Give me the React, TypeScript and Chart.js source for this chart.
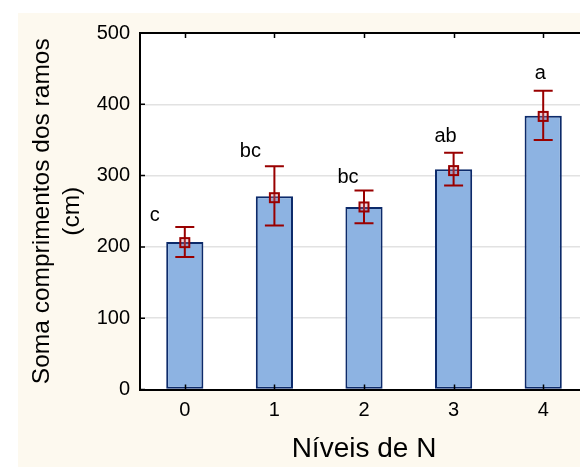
import React, { useEffect, useRef } from "react";
import { Chart, registerables } from "chart.js";

Chart.register(...registerables);

const categories = ["0", "1", "2", "3", "4"];
const means = [207, 271, 256, 309, 384];
const markerValues = [206, 269, 256, 307, 383];
const upperValues = [228, 313, 279, 332, 419];
const lowerValues = [186, 230, 233, 286, 350];
const groupLetters = ["c", "bc", "bc", "ab", "a"];
const letterBaselineValues = [237, 326, 290, 347, 435];
const letterOffsetsPx = [-30, -24, -16, -8, -3];
const yTickMax = 500;
const yStep = 100;

const CREAM = "#fdf9ef";
const ERR = "#990000";

const decorPlugin = {
  id: "decor",
  beforeDraw(chart: any) {
    const { ctx, chartArea } = chart;
    ctx.save();
    ctx.fillStyle = "#ffffff";
    ctx.fillRect(0, 0, chart.width, chart.height);
    ctx.fillStyle = CREAM;
    ctx.fillRect(18, 13, chart.width - 18, chart.height - 13);
    ctx.fillStyle = "#ffffff";
    ctx.fillRect(chartArea.left, chartArea.top, chartArea.right - chartArea.left, chartArea.bottom - chartArea.top);
    ctx.restore();
  },
  afterDatasetsDraw(chart: any) {
    const { ctx, chartArea, scales } = chart;
    const xs = scales.x;
    const ys = scales.y;
    ctx.save();
    // error bars
    ctx.strokeStyle = ERR;
    ctx.lineWidth = 2;
    for (let i = 0; i < categories.length; i++) {
      const x = xs.getPixelForValue(i);
      const yt = ys.getPixelForValue(upperValues[i]);
      const yb = ys.getPixelForValue(lowerValues[i]);
      const cap = 9.5;
      ctx.beginPath();
      ctx.moveTo(x, yt);
      ctx.lineTo(x, yb);
      ctx.moveTo(x - cap, yt);
      ctx.lineTo(x + cap, yt);
      ctx.moveTo(x - cap, yb);
      ctx.lineTo(x + cap, yb);
      ctx.stroke();
      const ym = ys.getPixelForValue(markerValues[i]);
      const s = 4.5;
      ctx.fillStyle = "rgba(200,120,140,0.3)";
      ctx.fillRect(x - s, ym - s, 2 * s, 2 * s);
      ctx.strokeRect(x - s, ym - s, 2 * s, 2 * s);
    }
    // letters
    ctx.fillStyle = "#000000";
    ctx.font = "20px 'Liberation Sans', Arial, sans-serif";
    ctx.textAlign = "center";
    ctx.textBaseline = "alphabetic";
    for (let i = 0; i < categories.length; i++) {
      const x = xs.getPixelForValue(i) + letterOffsetsPx[i];
      const y = ys.getPixelForValue(letterBaselineValues[i]);
      ctx.fillText(groupLetters[i], x, y);
    }
    // frame top line
    ctx.strokeStyle = "#000000";
    ctx.lineWidth = 2;
    ctx.beginPath();
    ctx.moveTo(chartArea.left - 1, chartArea.top);
    ctx.lineTo(chartArea.right, chartArea.top);
    ctx.stroke();
    // inward ticks
    ctx.lineWidth = 1.5;
    ctx.beginPath();
    for (let i = 0; i < categories.length; i++) {
      const x = Math.round(xs.getPixelForValue(i)) + 0.5;
      ctx.moveTo(x, chartArea.top);
      ctx.lineTo(x, chartArea.top + 5);
      ctx.moveTo(x, chartArea.bottom);
      ctx.lineTo(x, chartArea.bottom - 5);
    }
    for (let v = 0; v <= yTickMax; v += yStep) {
      const y = ys.getPixelForValue(v);
      ctx.moveTo(chartArea.left, y);
      ctx.lineTo(chartArea.left + 5, y);
    }
    ctx.stroke();
    ctx.restore();
  },
};

export default function App() {
  const ref = useRef<HTMLCanvasElement | null>(null);
  useEffect(() => {
    if (!ref.current) return;
    const font = "'Liberation Sans', Arial, sans-serif";
    const chart = new Chart(ref.current, {
      type: "bar",
      data: {
        labels: categories,
        datasets: [
          {
            data: means,
            backgroundColor: "#8db3e2",
            borderColor: "#0c2a6a",
            borderWidth: 2,
            borderSkipped: false,
            categoryPercentage: 1,
            barPercentage: 0.415,
          },
        ],
      },
      options: {
        responsive: false,
        animation: false,
        devicePixelRatio: 1,
        layout: { padding: { top: 33, right: 12, left: 0, bottom: 0 } },
        plugins: { legend: { display: false }, tooltip: { enabled: false } },
        scales: {
          x: {
            grid: { display: false, drawTicks: false },
            border: { display: true, color: "#000000", width: 2 },
            ticks: { color: "#000000", font: { family: font, size: 20 }, padding: 9 },
            title: {
              display: true,
              text: "Níveis de N",
              color: "#000000",
              font: { family: font, size: 28 },
              padding: { top: 0, bottom: 1 },
            },
            afterFit(scale: any) {
              scale.height = 77.5;
            },
          },
          y: {
            min: 0,
            max: yTickMax,
            ticks: { stepSize: yStep, color: "#000000", font: { family: font, size: 20 }, padding: 10 },
            grid: { color: "#e2e2e2", lineWidth: 1.5, drawTicks: false },
            border: { display: true, color: "#000000", width: 2 },
            title: {
              display: true,
              text: ["Soma comprimentos dos ramos", "(cm)"],
              color: "#000000",
              font: { family: font, size: 24.5, lineHeight: 1.22 },
              padding: { top: 27, bottom: 0 },
            },
            afterFit(scale: any) {
              scale.width = 140;
            },
          },
        },
      },
      plugins: [decorPlugin],
    } as any);
    return () => chart.destroy();
  }, []);
  return (
    <div style={{ position: "fixed", left: 0, top: 0, width: 580, height: 467, overflow: "hidden", background: "#ffffff" }}>
      <canvas ref={ref} width={600} height={467} style={{ display: "block" }} />
    </div>
  );
}
